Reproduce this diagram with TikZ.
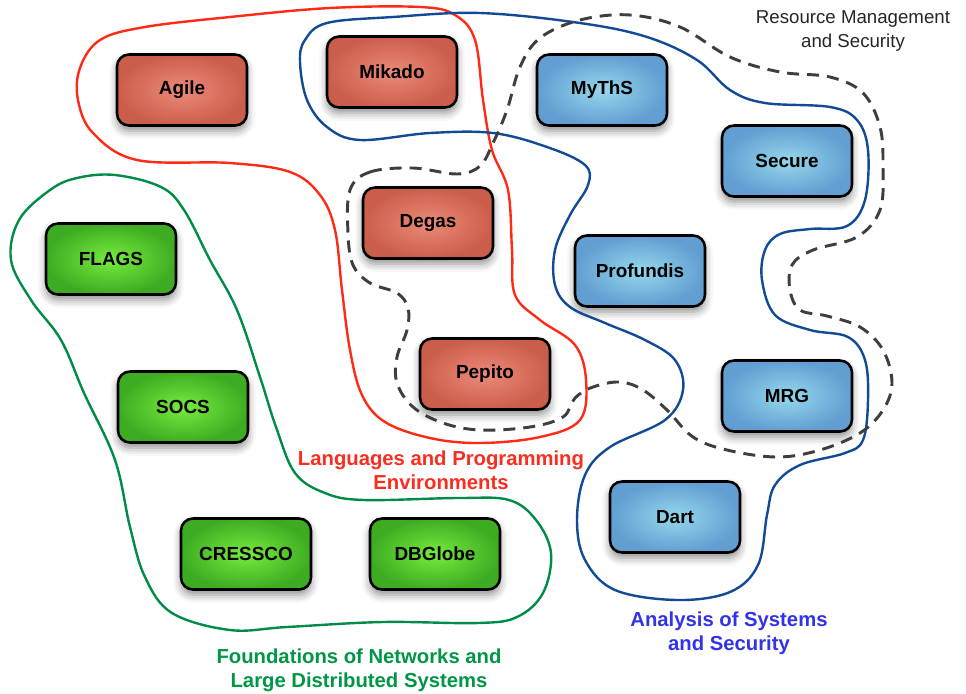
\documentclass[tikz,border=0pt]{standalone}
\usepackage{fontspec}
\setmainfont{Liberation Sans}
\usetikzlibrary{shadows.blur}

\definecolor{langfill}{RGB}{236,138,122}
\definecolor{langedge}{RGB}{203,94,74}
\definecolor{anafill}{RGB}{148,216,236}
\definecolor{anaedge}{RGB}{98,158,210}
\definecolor{netfill}{RGB}{118,236,62}
\definecolor{netedge}{RGB}{62,172,34}
\definecolor{langline}{RGB}{255,42,22}
\definecolor{analine}{RGB}{18,74,150}
\definecolor{netline}{RGB}{0,140,70}
\definecolor{resline}{RGB}{62,62,62}
\definecolor{langtext}{RGB}{250,45,30}
\definecolor{anatext}{RGB}{50,50,235}
\definecolor{nettext}{RGB}{0,150,70}

\tikzset{every picture/.style={line width=0.75pt}}
\tikzset{
  project/.style={draw=black, line width=1.9pt, rounded corners=9pt,
    minimum width=97.5pt, minimum height=53.25pt, inner sep=0pt,
    font=\fontsize{14.2}{17}\selectfont\bfseries, shading=radial,
    blur shadow={shadow xshift=0pt, shadow yshift=-4pt, shadow blur radius=6pt, shadow opacity=45}},
  langbox/.style={project, inner color=langfill, outer color=langedge},
  anabox/.style={project, inner color=anafill, outer color=anaedge},
  netbox/.style={project, inner color=netfill, outer color=netedge},
  area/.style={line width=1.8pt},
  arealabel/.style={align=center, inner sep=0.75pt, font=\fontsize{15.2}{18.2}\selectfont\bfseries}
}

\begin{document}
\begin{tikzpicture}[x=0.75pt,y=0.75pt,yscale=-1,xscale=1]
\useasboundingbox (0,0) rectangle (966,693);

%Shape: Rounded Rect [Languages]
\node [langbox] (agile) at (182,90) {Agile};
\node [langbox] (mikado) at (392,72) {Mikado};
\node [langbox] (degas) at (428,223) {Degas};
\node [langbox] (pepito) at (485,374) {Pepito};
%Shape: Rounded Rect [Analysis]
\node [anabox] (myths) at (602,90) {MyThS};
\node [anabox] (secure) at (787,161) {Secure};
\node [anabox] (profundis) at (640,271) {Profundis};
\node [anabox] (mrg) at (787,396) {MRG};
\node [anabox] (dart) at (675,517) {Dart};
%Shape: Rounded Rect [Foundations]
\node [netbox] (flags) at (111,259) {FLAGS};
\node [netbox] (socs) at (183,407) {SOCS};
\node [netbox] (cressco) at (246,554) {CRESSCO};
\node [netbox] (dbglobe) at (435,554) {DBGlobe};

%Curve: Languages and Programming Environments
\draw [area, color=langline] plot [smooth cycle, tension=0.6] coordinates {
  (78,100) (93,133) (137,160) (230,163) (290,172) (320,195) (335,230) (342,290)
  (350,350) (362,395) (385,422) (430,438) (480,443) (540,437) (580,420) (586,380)
  (575,345) (540,320) (515,295) (512,250) (508,190) (492,150) (483,100) (475,40)
  (455,15) (420,7) (330,8) (230,17) (145,27) (100,40) (80,68)};
%Curve: Analysis of Systems and Security
\draw [area, color=analine] plot [smooth cycle, tension=0.6] coordinates {
  (300,62) (307,100) (327,127) (360,140) (430,133) (493,133) (547,147) (585,165)
  (588,185) (570,215) (555,250) (555,285) (570,307) (605,323) (645,340) (675,360)
  (683,390) (665,420) (610,447) (585,475) (577,520) (585,560) (615,590) (677,600)
  (730,592) (758,565) (767,515) (775,485) (800,465) (845,453) (863,440) (868,400)
  (865,360) (848,337) (810,330) (775,315) (762,280) (765,250) (780,234) (810,229)
  (847,226) (865,200) (868,150) (857,120) (830,107) (765,103) (730,90) (697,60)
  (647,37) (580,23) (480,13) (393,17) (327,23) (305,40)};
%Curve: Foundations of Networks
\draw [area, color=netline] plot [smooth cycle, tension=0.6] coordinates {
  (115,175) (161,187) (184,210) (210,260) (237,310) (260,377) (276,427) (295,473)
  (325,493) (364,500) (459,498) (509,500) (536,520) (551,553) (543,593) (517,617)
  (478,623) (383,622) (287,627) (230,630) (172,613) (145,577) (130,527) (115,460)
  (84,393) (61,340) (31,300) (11,260) (19,220) (50,190) (77,178)};
%Curve: Resource Management and Security
\draw [line width=2.2pt, color=resline, dash pattern={on 9pt off 6pt}] plot [smooth cycle, tension=0.6] coordinates {
  (350,190) (370,172) (413,168) (457,174) (480,166) (493,143) (507,110) (520,67)
  (540,38) (580,20) (630,15) (680,27) (730,57) (780,72) (830,77) (863,93)
  (880,127) (883,167) (880,210) (857,237) (813,250) (792,265) (790,290) (800,310)
  (827,316) (860,327) (883,350) (892,383) (883,410) (860,433) (820,450) (777,457)
  (727,450) (693,437) (667,410) (643,390) (620,382) (593,387) (575,398) (563,417)
  (530,427) (480,430) (443,423) (413,407) (397,383) (397,357) (407,330) (408,308)
  (397,293) (370,283) (353,265) (348,233)};

% Text Node
\node [arealabel, text=langtext] (langlabel) at (441,470) {Languages and Programming\\Environments};
% Text Node
\node [arealabel, text=nettext] (netlabel) at (359,670) {Foundations of Networks and\\Large Distributed Systems};
% Text Node
\node [arealabel, text=anatext] (analabel) at (729,633) {Analysis of Systems\\and Security};
% Text Node
\node [align=center, inner sep=0.75pt, font=\fontsize{14}{18}\selectfont, text=black!85] (reslabel) at (853,31) {Resource Management\\and Security};

\end{tikzpicture}
\end{document}
